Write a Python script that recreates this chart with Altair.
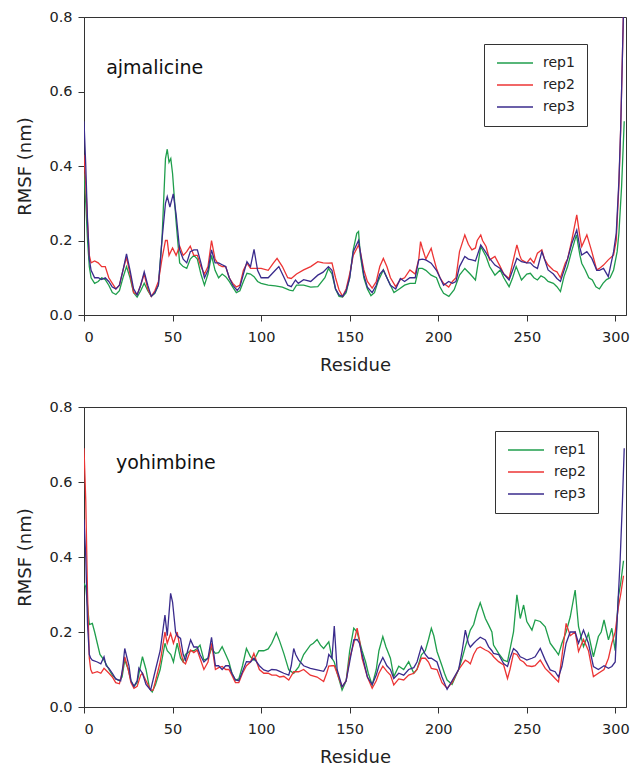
import altair as alt
import pandas as pd

FONT = "DejaVu Sans"
REPS = ["rep1", "rep2", "rep3"]
COLORS = ["#1f9e4c", "#ec3434", "#3a2b8c"]

# ---------------- ajmalicine (top panel) ----------------
aj_rep1_x = [0, 1, 2, 3, 4, 6, 8, 10, 12, 14, 16, 18, 20, 22, 24, 26, 28, 30, 32, 34, 36, 38, 40, 42, 44, 46, 47, 48, 49, 50, 52, 54, 56, 58, 60, 62, 64, 66, 68, 70, 72, 74, 76, 78, 80, 82, 84, 86, 88, 90, 92, 94, 96, 98, 100, 104, 108, 112, 116, 118, 120, 124, 128, 132, 136, 138, 140, 142, 144, 146, 148, 150, 152, 154, 155, 156, 158, 160, 162, 164, 166, 169, 172, 175, 178, 181, 184, 187, 189, 191, 193, 196, 199, 201, 203, 206, 209, 212, 215, 218, 221, 224, 227, 229, 232, 235, 237, 240, 242, 244, 247, 250, 252, 254, 256, 258, 260, 262, 265, 267, 269, 271, 273, 275, 278, 280, 281, 283, 285, 287, 289, 291, 293, 295, 297, 299, 301, 302, 303.5, 305]
aj_rep1_y = [0.38, 0.3, 0.2, 0.13, 0.1, 0.085, 0.09, 0.1, 0.095, 0.08, 0.06, 0.055, 0.065, 0.1, 0.13, 0.1, 0.06, 0.048, 0.065, 0.085, 0.065, 0.05, 0.058, 0.08, 0.2, 0.42, 0.445, 0.41, 0.42, 0.38, 0.25, 0.14, 0.13, 0.125, 0.15, 0.16, 0.15, 0.11, 0.08, 0.11, 0.16, 0.12, 0.1, 0.11, 0.103, 0.09, 0.075, 0.06, 0.065, 0.09, 0.112, 0.11, 0.103, 0.09, 0.085, 0.08, 0.078, 0.075, 0.067, 0.065, 0.08, 0.08, 0.075, 0.076, 0.1, 0.125, 0.11, 0.07, 0.05, 0.048, 0.06, 0.1, 0.175, 0.219, 0.224, 0.16, 0.1, 0.07, 0.052, 0.06, 0.09, 0.121, 0.09, 0.06, 0.07, 0.08, 0.085, 0.085, 0.125, 0.125, 0.12, 0.107, 0.1, 0.075, 0.058, 0.05, 0.068, 0.107, 0.125, 0.11, 0.094, 0.184, 0.157, 0.13, 0.107, 0.121, 0.1, 0.076, 0.1, 0.13, 0.094, 0.11, 0.112, 0.1, 0.094, 0.105, 0.1, 0.09, 0.085, 0.076, 0.063, 0.103, 0.13, 0.166, 0.215, 0.16, 0.139, 0.121, 0.1, 0.094, 0.076, 0.07, 0.085, 0.095, 0.1, 0.121, 0.17, 0.22, 0.344, 0.52]

aj_rep2_x = [0, 1, 2, 3, 4, 6, 8, 10, 12, 14, 16, 18, 20, 22, 24, 26, 28, 30, 32, 34, 36, 38, 40, 42, 44, 46, 47, 48, 50, 52, 54, 56, 58, 60, 62, 64, 66, 68, 70, 72, 74, 76, 78, 80, 82, 84, 86, 88, 90, 92, 94, 96, 98, 100, 104, 107, 109, 112, 115, 117, 120, 124, 128, 132, 135, 138, 140, 142, 144, 146, 148, 150, 152, 155, 156, 158, 160, 162.7, 165, 167, 169, 171, 173, 176, 178.6, 181, 184, 187, 189, 190, 191, 193, 196, 197, 199, 201, 203, 205.9, 208, 210, 212, 215, 217, 219, 221, 222, 224, 225, 227, 229, 232, 235, 237, 240, 242, 244.4, 246, 247, 250, 252, 254, 256, 258.5, 260, 262, 265, 267, 269, 271.7, 273, 275.4, 278.2, 280, 281, 283.9, 286.7, 289.5, 291, 293.3, 296, 299, 300.5, 302, 303, 304.5, 305]
aj_rep2_y = [0.43, 0.35, 0.25, 0.16, 0.14, 0.145, 0.14, 0.13, 0.13, 0.1, 0.085, 0.07, 0.08, 0.12, 0.155, 0.11, 0.06, 0.055, 0.08, 0.11, 0.07, 0.05, 0.065, 0.09, 0.15, 0.2, 0.2, 0.16, 0.18, 0.16, 0.185, 0.16, 0.17, 0.185, 0.16, 0.16, 0.13, 0.11, 0.13, 0.2, 0.15, 0.135, 0.13, 0.13, 0.1, 0.085, 0.075, 0.08, 0.12, 0.139, 0.125, 0.125, 0.125, 0.125, 0.12, 0.14, 0.152, 0.13, 0.1, 0.098, 0.11, 0.121, 0.13, 0.143, 0.14, 0.139, 0.14, 0.1, 0.067, 0.05, 0.07, 0.11, 0.16, 0.188, 0.17, 0.121, 0.09, 0.072, 0.09, 0.13, 0.152, 0.13, 0.1, 0.076, 0.095, 0.1, 0.121, 0.11, 0.15, 0.197, 0.18, 0.15, 0.179, 0.16, 0.125, 0.1, 0.085, 0.075, 0.09, 0.1, 0.17, 0.215, 0.19, 0.175, 0.18, 0.2, 0.215, 0.2, 0.184, 0.148, 0.157, 0.13, 0.11, 0.098, 0.14, 0.188, 0.16, 0.148, 0.14, 0.152, 0.14, 0.166, 0.175, 0.15, 0.134, 0.12, 0.116, 0.1, 0.139, 0.15, 0.201, 0.269, 0.21, 0.184, 0.215, 0.17, 0.121, 0.125, 0.134, 0.148, 0.161, 0.2, 0.35, 0.5, 0.8, 0.9]

aj_rep3_x = [0, 1, 2, 3, 4, 6, 8, 10, 12, 14, 16, 18, 20, 22, 24, 26, 28, 30, 32, 34, 36, 38, 40, 42, 44, 46, 47, 48.5, 50.4, 52, 54, 56, 58, 60, 62, 64, 66, 68, 70, 72, 74, 76, 78, 80, 82, 84, 86.5, 88, 90, 92, 94, 96, 98, 100, 104, 108, 110, 112, 115, 117, 119.4, 121, 124, 128, 132, 135, 138, 140, 142, 144, 146, 148, 150, 152, 155, 156, 158, 160, 162.7, 165, 167, 169, 171, 173, 176, 178.6, 181, 184, 187, 189, 191, 193, 196, 199, 201, 203, 205.9, 208, 210, 212, 215, 217, 219, 221, 224, 226.6, 229, 232, 235, 237, 240, 242, 244.4, 247, 250, 252, 254, 256, 258.5, 260, 262, 265, 267, 269, 271.7, 273, 275.4, 278.2, 280, 281, 283.9, 286.7, 289.5, 291, 293.3, 296, 299, 300.5, 302, 303, 304.5, 305]
aj_rep3_y = [0.52, 0.4, 0.25, 0.15, 0.12, 0.1, 0.1, 0.095, 0.1, 0.09, 0.075, 0.07, 0.08, 0.12, 0.164, 0.12, 0.07, 0.054, 0.08, 0.116, 0.08, 0.05, 0.06, 0.08, 0.2, 0.3, 0.318, 0.29, 0.325, 0.27, 0.175, 0.15, 0.14, 0.17, 0.175, 0.175, 0.14, 0.1, 0.12, 0.175, 0.14, 0.14, 0.135, 0.13, 0.1, 0.08, 0.066, 0.075, 0.11, 0.143, 0.13, 0.176, 0.12, 0.1, 0.1, 0.12, 0.13, 0.11, 0.08, 0.076, 0.094, 0.085, 0.095, 0.09, 0.107, 0.115, 0.13, 0.12, 0.07, 0.054, 0.05, 0.065, 0.1, 0.17, 0.2, 0.17, 0.107, 0.075, 0.06, 0.08, 0.11, 0.121, 0.1, 0.08, 0.07, 0.098, 0.09, 0.1, 0.1, 0.148, 0.15, 0.148, 0.139, 0.12, 0.1, 0.08, 0.09, 0.085, 0.09, 0.13, 0.157, 0.15, 0.148, 0.145, 0.188, 0.17, 0.152, 0.134, 0.125, 0.11, 0.094, 0.12, 0.152, 0.143, 0.14, 0.14, 0.13, 0.125, 0.17, 0.15, 0.121, 0.11, 0.098, 0.09, 0.13, 0.15, 0.192, 0.228, 0.18, 0.161, 0.17, 0.152, 0.12, 0.12, 0.125, 0.103, 0.17, 0.22, 0.36, 0.5, 0.8, 0.9]

# ---------------- yohimbine (bottom panel) ----------------
yo_rep1_x = [0, 1, 2, 3, 4.7, 6, 7.5, 9, 11.3, 13, 14.1, 16, 18, 20, 21.5, 23, 25, 26.5, 28.2, 30, 31.5, 33, 35, 37, 38.5, 40.4, 43, 45.7, 47, 49, 50.5, 52.6, 54.5, 56, 57.3, 60.2, 62, 63.9, 65.5, 67.7, 70, 72, 74.2, 76, 78, 80, 81.8, 83.5, 85.5, 87.4, 89.5, 91.7, 94, 96, 98.7, 101.5, 104, 106, 108.6, 110.5, 112.8, 115.6, 118.4, 121.2, 124, 127.8, 129.5, 131.6, 133.5, 135.3, 138.2, 140, 141.3, 143, 145.7, 148, 150, 152.3, 154.2, 157, 159, 160.5, 162.7, 165, 166.5, 168.7, 170.5, 173, 174.9, 177.7, 180.5, 183.3, 186.2, 188, 190.5, 192.7, 194.5, 196.1, 197.5, 199.3, 202.1, 203.5, 205, 207.8, 211.5, 213.5, 215.3, 218.1, 220, 221.9, 223.7, 226.6, 228.4, 230.3, 231.2, 234.1, 236.9, 239.1, 242.5, 244.4, 246.3, 248.2, 250, 252.9, 254.7, 257.6, 260.4, 263.2, 266, 267.9, 269.8, 272.2, 274.5, 277.3, 279.2, 280.5, 282, 284.8, 287.6, 290.4, 292, 293.6, 296.1, 298, 299.9, 301.7, 303, 304.6]
yo_rep1_y = [0.33, 0.32, 0.27, 0.22, 0.223, 0.2, 0.17, 0.14, 0.125, 0.11, 0.1, 0.085, 0.075, 0.07, 0.08, 0.125, 0.1, 0.07, 0.055, 0.065, 0.1, 0.134, 0.1, 0.05, 0.04, 0.06, 0.1, 0.17, 0.15, 0.14, 0.12, 0.17, 0.13, 0.12, 0.14, 0.15, 0.15, 0.156, 0.165, 0.125, 0.13, 0.156, 0.143, 0.145, 0.161, 0.14, 0.121, 0.09, 0.072, 0.075, 0.11, 0.156, 0.134, 0.125, 0.15, 0.15, 0.155, 0.17, 0.198, 0.175, 0.143, 0.099, 0.09, 0.107, 0.14, 0.165, 0.17, 0.18, 0.165, 0.156, 0.174, 0.13, 0.12, 0.09, 0.045, 0.07, 0.15, 0.21, 0.2, 0.15, 0.12, 0.09, 0.059, 0.1, 0.15, 0.188, 0.16, 0.13, 0.081, 0.109, 0.1, 0.121, 0.09, 0.1, 0.139, 0.15, 0.18, 0.21, 0.19, 0.148, 0.11, 0.09, 0.072, 0.06, 0.1, 0.13, 0.161, 0.205, 0.22, 0.254, 0.278, 0.236, 0.219, 0.2, 0.165, 0.143, 0.125, 0.121, 0.2, 0.299, 0.236, 0.272, 0.228, 0.205, 0.232, 0.228, 0.214, 0.17, 0.152, 0.139, 0.17, 0.2, 0.24, 0.312, 0.214, 0.19, 0.161, 0.196, 0.134, 0.188, 0.2, 0.232, 0.179, 0.21, 0.15, 0.294, 0.33, 0.39]

yo_rep2_x = [0, 1, 2, 3, 3.8, 4.7, 7.5, 9.5, 11.3, 14.1, 16, 17.9, 20, 21.5, 23, 25, 26.5, 28.2, 30, 32, 33, 35, 37.6, 39, 40.4, 43, 45.7, 47, 48.9, 50.5, 52.6, 54.5, 56, 57.3, 58.5, 60.2, 62, 63.9, 65.5, 67.7, 70, 72, 74.2, 76, 78, 80, 81.8, 83.5, 85.5, 87.4, 89.5, 91.7, 94, 95.9, 97.5, 99, 101.5, 104, 106, 108.6, 110.5, 112.8, 115.6, 118.4, 121.2, 124, 127.8, 131.6, 135.3, 137, 138.2, 140, 141.3, 142.9, 145.7, 148, 150, 152.3, 154.2, 155.5, 157, 160, 162.7, 165, 166.5, 168.7, 171, 173, 174.9, 177.7, 180.5, 183.3, 186.2, 188, 190.5, 192.7, 194.5, 196.1, 199.3, 202.1, 205, 207.8, 211.5, 215.3, 217, 218.1, 220, 221.9, 223.7, 226.6, 228.4, 230.3, 231.2, 234.1, 236.9, 239.1, 240.5, 242.5, 244.4, 246.3, 248.2, 250, 252.9, 254.7, 257.6, 260.4, 263.2, 266, 267.9, 269.8, 272.2, 274.5, 277.3, 279.2, 282, 284.8, 287.6, 290.4, 293.6, 296.1, 298, 299.9, 301.7, 303, 304.6]
yo_rep2_y = [0.69, 0.55, 0.3, 0.13, 0.1, 0.09, 0.094, 0.09, 0.103, 0.09, 0.08, 0.065, 0.062, 0.09, 0.134, 0.1, 0.065, 0.05, 0.055, 0.085, 0.09, 0.07, 0.045, 0.045, 0.07, 0.12, 0.2, 0.17, 0.196, 0.17, 0.2, 0.15, 0.12, 0.115, 0.13, 0.152, 0.145, 0.152, 0.13, 0.1, 0.12, 0.17, 0.1, 0.105, 0.108, 0.1, 0.1, 0.085, 0.065, 0.065, 0.09, 0.11, 0.12, 0.143, 0.12, 0.1, 0.09, 0.09, 0.085, 0.085, 0.08, 0.082, 0.072, 0.094, 0.094, 0.1, 0.085, 0.08, 0.068, 0.09, 0.109, 0.11, 0.11, 0.09, 0.054, 0.07, 0.13, 0.17, 0.21, 0.18, 0.13, 0.08, 0.05, 0.07, 0.09, 0.109, 0.095, 0.085, 0.059, 0.075, 0.072, 0.085, 0.09, 0.1, 0.13, 0.13, 0.12, 0.103, 0.1, 0.065, 0.05, 0.065, 0.1, 0.125, 0.12, 0.115, 0.14, 0.156, 0.16, 0.152, 0.148, 0.14, 0.134, 0.121, 0.112, 0.076, 0.1, 0.143, 0.14, 0.125, 0.12, 0.11, 0.108, 0.11, 0.125, 0.103, 0.09, 0.076, 0.067, 0.134, 0.223, 0.19, 0.2, 0.148, 0.18, 0.15, 0.081, 0.09, 0.1, 0.13, 0.17, 0.2, 0.267, 0.3, 0.35]

yo_rep3_x = [0, 1, 2, 3, 3.8, 4.7, 7.5, 9.5, 11.3, 12.5, 14.1, 16, 17.9, 20.7, 22, 23, 25.4, 26.5, 28.2, 30, 31, 33, 35, 37.6, 40.4, 43, 45.7, 47, 48.9, 50, 51.7, 52.6, 54.5, 56, 57.3, 58.5, 60.2, 62, 63.9, 65.5, 67.7, 70, 72, 74.2, 76, 78, 80, 81.8, 83.5, 85.5, 87.4, 89.5, 91.7, 94, 95.9, 97.5, 99, 101.5, 104, 106, 108.6, 110.5, 112.8, 115.6, 117, 118.4, 119.5, 121.2, 124, 127.8, 131.6, 135.3, 137, 138.2, 140, 141.3, 142.9, 145.7, 148, 150, 152.3, 154.2, 155.5, 157, 160, 162.7, 165, 166.5, 168.7, 171, 173, 174.9, 177.7, 180.5, 183.3, 186.2, 188, 190.5, 192.7, 194.5, 196.1, 199.3, 202.1, 205, 207.8, 211.5, 213.5, 215.3, 217, 218.1, 220, 221.9, 223.7, 226.6, 228.4, 230.3, 231.2, 234.1, 236.9, 239.1, 240.5, 242.5, 244.4, 246.3, 248.2, 250, 252.9, 254.7, 257.6, 260.4, 263.2, 266, 267.9, 269.8, 272.2, 274.5, 277.3, 279.2, 282, 284.8, 287.6, 290.4, 293.6, 296.1, 298, 299.9, 300.8, 302.7, 304, 305]
yo_rep3_y = [0.5, 0.4, 0.22, 0.14, 0.13, 0.125, 0.12, 0.115, 0.134, 0.11, 0.103, 0.09, 0.075, 0.07, 0.11, 0.156, 0.11, 0.07, 0.055, 0.07, 0.104, 0.09, 0.06, 0.045, 0.1, 0.15, 0.245, 0.19, 0.303, 0.28, 0.2, 0.19, 0.183, 0.14, 0.125, 0.15, 0.179, 0.16, 0.16, 0.14, 0.12, 0.13, 0.186, 0.11, 0.11, 0.1, 0.11, 0.11, 0.09, 0.072, 0.07, 0.095, 0.121, 0.12, 0.13, 0.12, 0.11, 0.099, 0.095, 0.1, 0.099, 0.095, 0.09, 0.085, 0.11, 0.156, 0.14, 0.125, 0.11, 0.103, 0.099, 0.095, 0.11, 0.14, 0.13, 0.216, 0.1, 0.054, 0.07, 0.12, 0.179, 0.18, 0.17, 0.14, 0.08, 0.06, 0.085, 0.11, 0.132, 0.11, 0.1, 0.076, 0.09, 0.085, 0.1, 0.105, 0.12, 0.161, 0.14, 0.13, 0.13, 0.12, 0.08, 0.047, 0.07, 0.1, 0.15, 0.205, 0.17, 0.16, 0.17, 0.179, 0.186, 0.179, 0.161, 0.15, 0.143, 0.14, 0.116, 0.108, 0.13, 0.156, 0.148, 0.134, 0.13, 0.125, 0.13, 0.134, 0.156, 0.125, 0.099, 0.094, 0.08, 0.108, 0.17, 0.2, 0.2, 0.17, 0.205, 0.17, 0.108, 0.1, 0.11, 0.103, 0.108, 0.12, 0.214, 0.392, 0.55, 0.69]

# panel annotations (data coordinates: residue, RMSF)
panel_names = ["ajmalicine", "yohimbine"]
label_x = [12.5, 18.0]
label_y = [0.663, 0.651]

X_TICKS = [0, 50, 100, 150, 200, 250, 300]
Y_TICKS = [0.0, 0.2, 0.4, 0.6, 0.8]


def long_frame(series):
    rows = []
    for rep, xs, ys in series:
        for xv, yv in zip(xs, ys):
            rows.append({"Residue": xv, "RMSF": yv, "rep": rep})
    return pd.DataFrame(rows)


def panel(series, name, lx, ly, height, legend_x, legend_y):
    df = long_frame(series)
    x_enc = alt.X("Residue:Q", scale=alt.Scale(domain=[0, 306], nice=False, zero=False),
                  axis=alt.Axis(title="Residue", values=X_TICKS, format="d", grid=False,
                                tickSize=6, labelPadding=9, titlePadding=13,
                                labelFontSize=14.5, titleFontSize=18, labelFont=FONT, titleFont=FONT,
                                titleFontWeight="normal", domainColor="#333", tickColor="#333",
                                labelColor="#222", titleColor="#222"))
    y_enc = alt.Y("RMSF:Q", scale=alt.Scale(domain=[0, 0.8], nice=False),
                  axis=alt.Axis(title="RMSF (nm)", values=Y_TICKS, format=".1f", grid=False,
                                tickSize=6, labelPadding=6, titlePadding=14,
                                labelFontSize=14.5, titleFontSize=18, labelFont=FONT, titleFont=FONT,
                                titleFontWeight="normal", domainColor="#333", tickColor="#333",
                                labelColor="#222", titleColor="#222"))
    lines = alt.Chart(df).mark_line(strokeWidth=1.3, clip=True).encode(
        x=x_enc,
        y=y_enc,
        color=alt.Color("rep:N", scale=alt.Scale(domain=REPS, range=COLORS),
                        legend=alt.Legend(title=None, orient="none", legendX=legend_x, legendY=legend_y,
                                          symbolType="M-1,0H5", symbolSize=144, symbolStrokeWidth=1.5,
                                          labelFont=FONT, labelFontSize=14, labelColor="#222",
                                          strokeColor="#333", fillColor="white", padding=12,
                                          rowPadding=8, labelOffset=33)),
        detail="rep:N",
    )
    lab = alt.Chart(pd.DataFrame({"Residue": [lx], "RMSF": [ly], "t": [name]})).mark_text(
        align="left", baseline="middle", font=FONT, fontSize=19, color="#111"
    ).encode(x="Residue:Q", y="RMSF:Q", text="t:N")
    return alt.layer(lines, lab).properties(width=542, height=height)


top = panel([("rep1", aj_rep1_x, aj_rep1_y), ("rep2", aj_rep2_x, aj_rep2_y), ("rep3", aj_rep3_x, aj_rep3_y)],
            panel_names[0], label_x[0], label_y[0], 298, 400, 27)
bottom = panel([("rep1", yo_rep1_x, yo_rep1_y), ("rep2", yo_rep2_x, yo_rep2_y), ("rep3", yo_rep3_x, yo_rep3_y)],
               panel_names[1], label_x[1], label_y[1], 300, 411, 24)

chart = alt.vconcat(top, bottom, spacing=23).resolve_legend(color="independent").resolve_scale(
    color="independent").properties(
    padding={"left": 16, "top": 8, "right": 0, "bottom": 0},
    background="white",
).configure_view(stroke="#333", strokeWidth=1)

chart.save("out.html", embed_options={"renderer": "svg", "actions": False})
